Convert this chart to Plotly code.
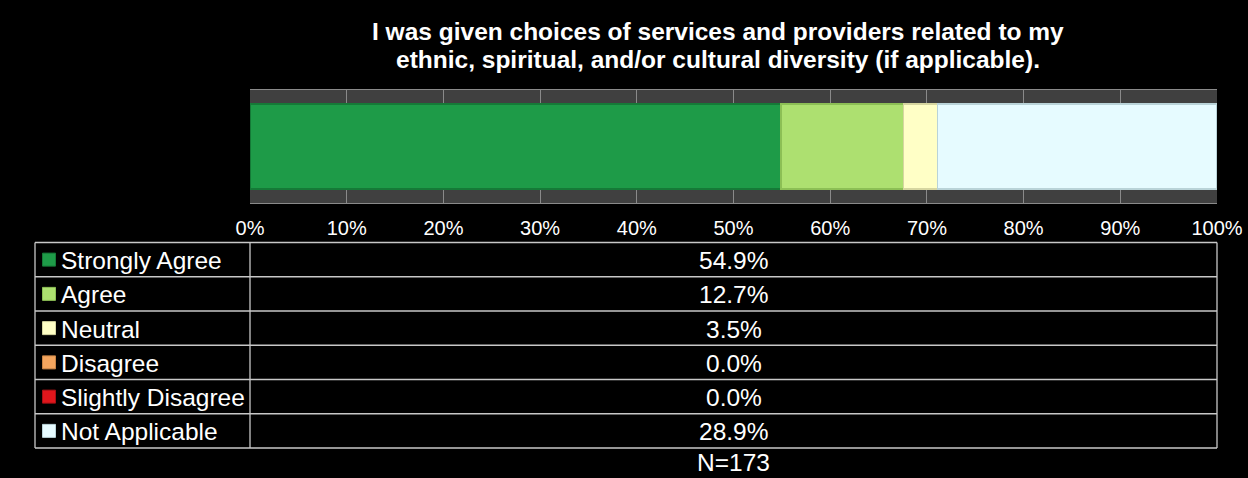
import plotly.graph_objects as go

# ---- data ----
title_lines = ["I was given choices of services and providers related to my",
               "ethnic, spiritual, and/or cultural diversity (if applicable)."]
categories = ["Strongly Agree", "Agree", "Neutral", "Disagree", "Slightly Disagree", "Not Applicable"]
values = [54.9, 12.7, 3.5, 0.0, 0.0, 28.9]
colors = ["#1e9b48", "#ade070", "#ffffc6", "#f4a55e", "#e0161c", "#e6fbff"]
edge_colors = ["#157a37", "#8cbf55", "#d6d6a0", "#c98445", "#a81015", "#b9d3d8"]
n_respondents = 173
tick_vals = [i / 10 for i in range(11)]
tick_text = [f"{i * 10}%" for i in range(11)]

# ---- layout geometry (pixels) ----
W, H = 1248, 478
PL, PR, PT, PB = 250, 1217, 90, 203   # plot area
FONT = "Liberation Sans, Arial, sans-serif"


def px_x(p):
    return (p - PL) / (PR - PL)


def px_y(p):
    return (PB - p) / (PB - PT)


fig = go.Figure()
for cat, v, c, ec in zip(categories, values, colors, edge_colors):
    fig.add_trace(go.Bar(
        y=["q"], x=[v / 100], orientation="h", name=cat, width=0.75,
        marker=dict(color=c, line=dict(color=ec, width=1.5)),
        showlegend=False, hoverinfo="skip",
    ))

shapes = []
annotations = []

# title (one annotation per line for tight line spacing)
for k, line in enumerate(title_lines):
    annotations.append(dict(
        text="<b>" + line + "</b>",
        x=px_x(718), y=px_y(31 + k * 28), xref="paper", yref="paper",
        xanchor="center", yanchor="middle", showarrow=False,
        font=dict(family=FONT, size=24.5, color="white"),
    ))

# data table
T_TOP, ROW_H, T_LEFT = 242.5, 34.25, 35
n_rows = len(categories)
line_col = "#c8c8c8"
for k in range(n_rows + 1):
    yy = T_TOP + k * ROW_H
    shapes.append(dict(type="line", xref="paper", yref="paper",
                       x0=px_x(T_LEFT), x1=px_x(PR), y0=px_y(yy), y1=px_y(yy),
                       line=dict(color=line_col, width=1.3)))
for xx in (T_LEFT, PL, PR):
    shapes.append(dict(type="line", xref="paper", yref="paper",
                       x0=px_x(xx), x1=px_x(xx), y0=px_y(T_TOP), y1=px_y(T_TOP + n_rows * ROW_H),
                       line=dict(color=line_col, width=1.3)))

for i, (cat, v, c, ec) in enumerate(zip(categories, values, colors, edge_colors)):
    yc = T_TOP + (i + 0.5) * ROW_H
    shapes.append(dict(type="rect", xref="paper", yref="paper",
                       x0=px_x(42.5), x1=px_x(55.5), y0=px_y(yc - 6.5), y1=px_y(yc + 6.5),
                       fillcolor=c, line=dict(color=ec, width=1)))
    annotations.append(dict(text=cat, x=px_x(59), y=px_y(yc + 1), xref="paper", yref="paper",
                            xanchor="left", yanchor="middle", showarrow=False,
                            font=dict(family=FONT, size=24.5, color="white")))
    annotations.append(dict(text=f"{v:.1f}%", x=0.5, y=px_y(yc + 1), xref="paper", yref="paper",
                            xanchor="center", yanchor="middle", showarrow=False,
                            font=dict(family=FONT, size=24.5, color="white")))

annotations.append(dict(text=f"N={n_respondents}", x=0.5, y=px_y(T_TOP + n_rows * ROW_H + 14),
                        xref="paper", yref="paper", xanchor="center", yanchor="middle",
                        showarrow=False, font=dict(family=FONT, size=24.5, color="white")))

fig.update_layout(
    template="none",
    width=W, height=H,
    margin=dict(l=PL, r=W - PR, t=PT, b=H - PB, pad=0, autoexpand=False),
    paper_bgcolor="black", plot_bgcolor="#404040",
    barmode="stack", bargap=0.25,
    shapes=shapes, annotations=annotations,
    font=dict(family=FONT, color="white"),
    xaxis=dict(range=[0, 1], tickvals=tick_vals, ticktext=tick_text, automargin=False,
               showgrid=True, gridcolor="#8a8a8a", gridwidth=1,
               zeroline=False, showline=True, linecolor="#8a8a8a", mirror=True,
               ticks="outside", ticklen=7, tickcolor="rgba(0,0,0,0)",
               tickfont=dict(family=FONT, size=20, color="white"), fixedrange=True),
    yaxis=dict(range=[-0.5, 0.5], showticklabels=False, showgrid=False, automargin=False,
               zeroline=False, fixedrange=True),
)

fig.write_html("out.html")
